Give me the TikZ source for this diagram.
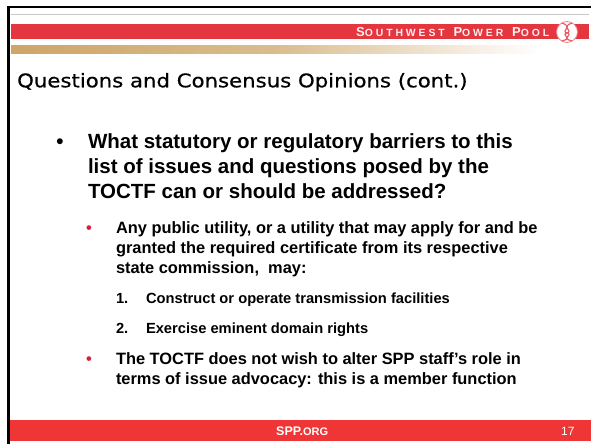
\documentclass[tikz,border=0pt]{standalone}
\usepackage{fontspec}
\setmainfont{Liberation Sans}
\newfontfamily\titlefont[FakeStretch=1.13,FakeBold=0.6]{DejaVu Sans}
\newfontfamily\brandfont[LetterSpace=28]{Liberation Sans Bold}
\definecolor{sppred}{HTML}{EF3535}
\definecolor{hdrred}{HTML}{E4363F}
\definecolor{bulred}{HTML}{DC1E38}
\definecolor{tan}{HTML}{CDA668}
\tikzset{
 txt/.style={anchor=base west,inner sep=0pt,outer sep=0pt,font=\bfseries\fontsize{#1}{#1}\selectfont,text=black},
 bul/.style={anchor=base west,inner sep=0pt,outer sep=0pt,font=\bfseries\fontsize{#1}{#1}\selectfont,text=bulred},
}
\begin{document}
\begin{tikzpicture}[x=1pt,y=-1pt]
\useasboundingbox (0,0) rectangle (591,444);
\fill[white] (0,0) rectangle (591,444);
% frame
\fill[black] (6.5,6) rectangle (591,8.5);
\fill[black] (6.5,6) rectangle (9.5,444);
\fill[black!22] (11,14) rectangle (589,15.5);
\fill[hdrred] (11,24.5) rectangle (589,39.5);
\shade[left color=tan,right color=white,middle color=tan!75] (11,46) rectangle (540,54);
\fill[sppred] (9.5,420) rectangle (591,441);
% logo
\node[circle,fill=white,draw=hdrred!60,line width=0.8pt,minimum size=21pt,inner sep=0pt] (logo) at (567,32) {};
\draw[hdrred!80,line width=1.2pt] (562,23) .. controls (574,27) and (560,31) .. (567,33) .. controls (574,35) and (560,38) .. (572,41);
\draw[hdrred!80,line width=1.2pt] (572,23) .. controls (560,27) and (574,31) .. (567,33) .. controls (560,35) and (574,38) .. (562,41);
\node[anchor=base west,inner sep=0pt,text=white!92!hdrred] (brand) at (356,36.7) {\brandfont\fontsize{13}{13}\selectfont S\fontsize{10.4}{10.4}\selectfont OUTHWEST\hspace{3pt} \fontsize{13}{13}\selectfont P\fontsize{10.4}{10.4}\selectfont OWER\hspace{3pt} \fontsize{13}{13}\selectfont P\fontsize{10.4}{10.4}\selectfont OOL};
% title
\node[anchor=base west,inner sep=0pt,font=\titlefont\fontsize{18.8}{18.8}\selectfont] (title) at (17,87.3) {Questions and Consensus Opinions (cont.)};
% level 1
\node[txt=20.5] (b0) at (56.4,148) {•};
\node[txt=20.5] (l1) at (88,148) {What statutory or regulatory barriers to this};
\node[txt=20.5] (l2) at (88,173) {list of issues and questions posed by the};
\node[txt=20.5] (l3) at (88,198) {TOCTF can or should be addressed?};
% level 2
\node[bul=16.4] (b1) at (86,233) {•};
\node[txt=16.4] (a1) at (116,233) {Any public utility, or a utility that may apply for and be};
\node[txt=16.4] (a2) at (116,253) {granted the required certificate from its respective};
\node[txt=16.4] (a3) at (116,273.5) {state commission,\ \ may:};
% numbered
\node[txt=14.7] (n1) at (116,303) {1.};
\node[txt=14.7] (t1) at (146,303) {Construct or operate transmission facilities};
\node[txt=14.7] (n2) at (116,333) {2.};
\node[txt=14.7] (t2) at (146,333) {Exercise eminent domain rights};
% last
\node[bul=16.4] (b2) at (86,364) {•};
\node[txt=16.4] (c1) at (116,364) {The TOCTF does not wish to alter SPP staff’s role in};
\node[txt=16.4] (c2) at (116,384) {terms of issue advocacy: this is a member function};
% footer
\node[anchor=base west,inner sep=0pt,text=white,font=\bfseries\fontsize{12.5}{12.5}\selectfont] (spp) at (276,435) {SPP.\fontsize{11}{11}\selectfont ORG};
\node[anchor=base west,inner sep=0pt,text=white,font=\fontsize{12}{12}\selectfont] (num) at (561,435) {17};
\end{tikzpicture}
\end{document}
